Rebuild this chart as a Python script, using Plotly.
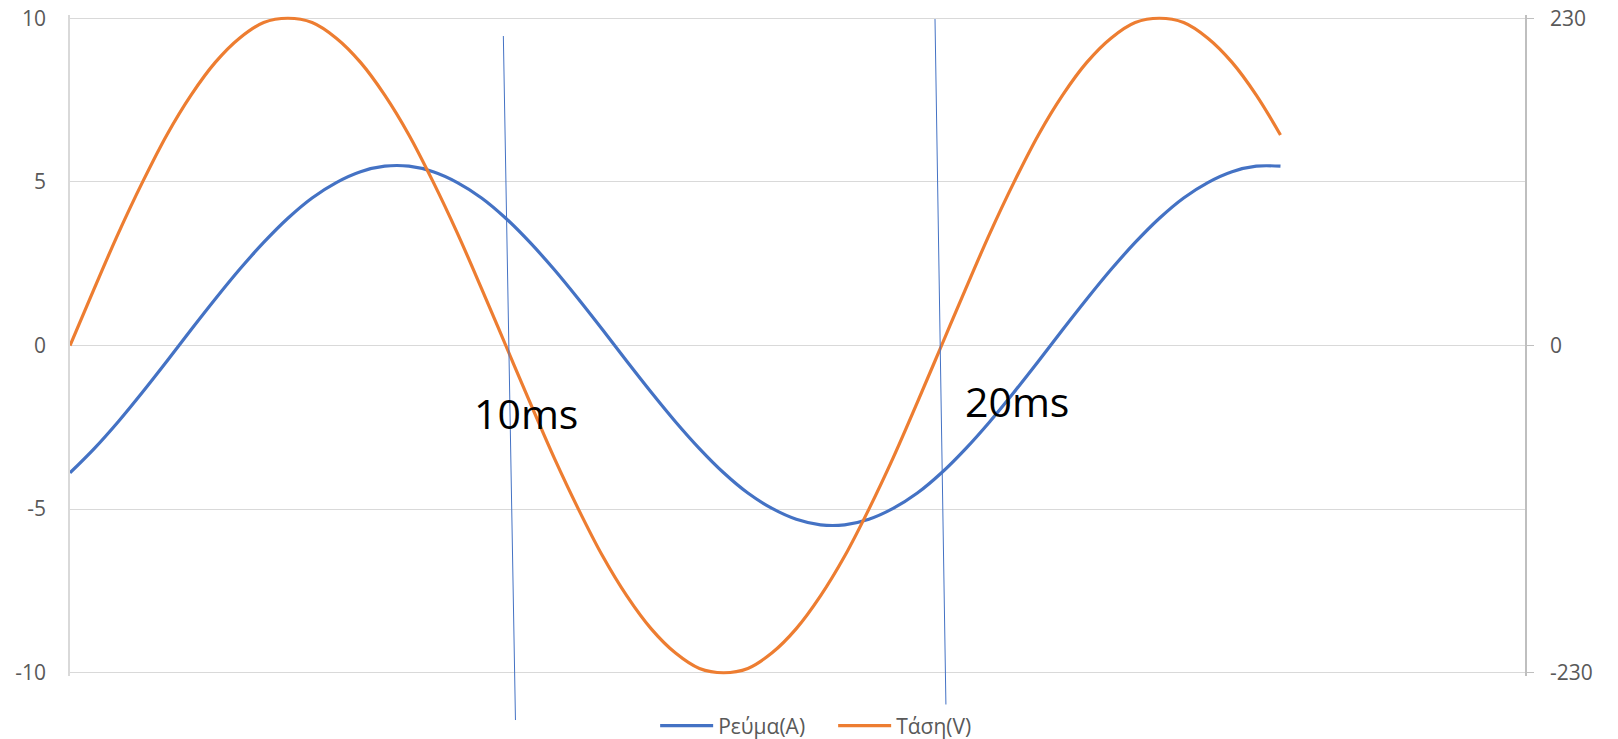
import plotly.graph_objects as go

# phase angle of the 50 Hz waveform (degrees), 360° = 20 ms
angle_deg = list(range(0, 510, 10))

current_A = [-3.89, -3.15, -2.32, -1.42, -0.48, 0.48, 1.42, 2.32, 3.15, 3.89,
             4.51, 4.98, 5.31, 5.48, 5.48, 5.31, 4.98, 4.51, 3.89, 3.15,
             2.32, 1.42, 0.48, -0.48, -1.42, -2.32, -3.15, -3.89, -4.51, -4.98,
             -5.31, -5.48, -5.48, -5.31, -4.98, -4.51, -3.89, -3.15, -2.32, -1.42,
             -0.48, 0.48, 1.42, 2.32, 3.15, 3.89, 4.51, 4.98, 5.31, 5.48, 5.48]

voltage_V = [0, 40, 79, 115, 148, 176, 199, 216, 227, 230,
             227, 216, 199, 176, 148, 115, 79, 40, 0, -40,
             -79, -115, -148, -176, -199, -216, -227, -230, -227, -216,
             -199, -176, -148, -115, -79, -40, 0, 40, 79, 115,
             148, 176, 199, 216, 227, 230, 227, 216, 199, 176, 148]

left_ticks = [-10, -5, 0, 5, 10]
left_labels = ["-10", "-5", "0", "5", "10"]
right_ticks = [-230, 0, 230]
right_labels = ["-230", "0", "230"]

series_names = ["Ρεύμα(A)", "Τάση(V)"]
marker_labels = ["10ms", "20ms"]

BLUE = "#4472C4"
ORANGE = "#ED7D31"
GRAY_TXT = "#595959"
FONT = "Open Sans"

fig = go.Figure()
fig.add_trace(go.Scatter(x=angle_deg, y=current_A, name=series_names[0], mode="lines",
                         line=dict(color=BLUE, width=3.2, shape="spline"), yaxis="y"))
fig.add_trace(go.Scatter(x=angle_deg, y=voltage_V, name=series_names[1], mode="lines",
                         line=dict(color=ORANGE, width=3.2, shape="spline"), yaxis="y2"))

# hand-drawn thin marker lines
fig.add_shape(type="line", xref="x", yref="paper", x0=179, y0=0.9682, x1=184, y1=-0.0666,
              line=dict(color=BLUE, width=1))
fig.add_shape(type="line", xref="x", yref="paper", x0=357.3, y0=0.9939, x1=361.8, y1=-0.0431,
              line=dict(color=BLUE, width=1))

fig.add_annotation(x=188.5, y=-2.06, xref="x", yref="y", text=marker_labels[0], showarrow=False,
                   font=dict(family=FONT, size=41, color="black"), xanchor="center", yanchor="middle")
fig.add_annotation(x=391, y=-1.69, xref="x", yref="y", text=marker_labels[1], showarrow=False,
                   font=dict(family=FONT, size=41, color="black"), xanchor="center", yanchor="middle")

fig.update_layout(
    width=1618, height=739,
    margin=dict(l=70, r=93, t=15, b=63, autoexpand=False),
    paper_bgcolor="white", plot_bgcolor="white",
    font=dict(family=FONT, color=GRAY_TXT, size=21),
    xaxis=dict(range=[0, 601], showticklabels=False, showgrid=False, zeroline=False,
               showline=False, ticks=""),
    yaxis=dict(range=[-10.1, 10.1], tickvals=left_ticks, ticktext=left_labels,
               showgrid=True, gridcolor="#d9d9d9",
               gridwidth=1, zeroline=False, showline=True, linecolor="#d9d9d9", linewidth=1.5,
               ticks="", tickfont=dict(size=21, color=GRAY_TXT), ticklabelstandoff=18),
    yaxis2=dict(range=[-232.3, 232.3], tickvals=right_ticks, ticktext=right_labels,
                overlaying="y", side="right",
                showgrid=False, zeroline=False, showline=True, linecolor="#bfbfbf", linewidth=1.5,
                ticks="outside", ticklen=7, tickcolor="#bfbfbf",
                tickfont=dict(size=21, color=GRAY_TXT), ticklabelstandoff=12),
    legend=dict(orientation="h", x=0.5245, xanchor="center", y=-0.0756, yanchor="middle",
                font=dict(size=21, color=GRAY_TXT), itemwidth=53, entrywidth=110,
                bgcolor="rgba(0,0,0,0)"),
    showlegend=True,
)

fig.write_html("out.html", config={"displayModeBar": False},
               post_script="document.body.style.margin='0';document.body.style.overflow='hidden';")
